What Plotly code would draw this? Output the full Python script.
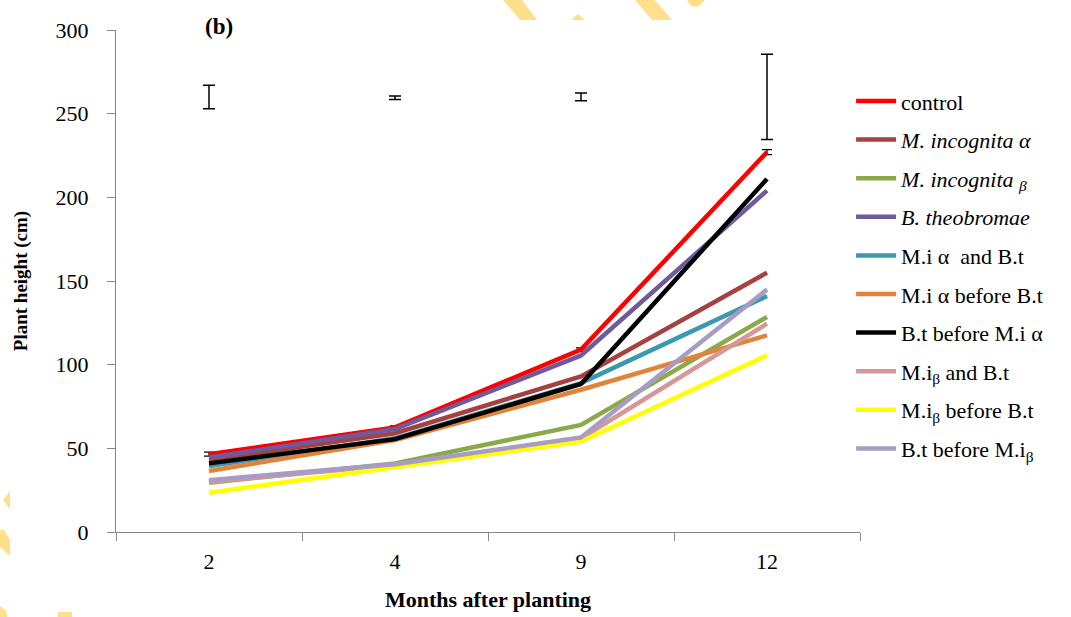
import plotly.graph_objects as go

months = ["2", "4", "9", "12"]

series_names = [
    "control",
    "<i>M. incognita α</i>",
    "<i>M. incognita</i> <sub><i>β</i></sub>",
    "<i>B. theobromae</i>",
    "M.i α  and B.t",
    "M.i α before B.t",
    "B.t before M.i α",
    "M.i<sub>β</sub> and B.t",
    "M.i<sub>β</sub> before B.t",
    "B.t before M.i<sub>β</sub>",
]
control = [46.5, 62.5, 109, 227]
mi_alpha = [43, 59, 93, 155]
mi_beta = [29.5, 41, 64, 128.5]
b_theo = [44.5, 61.5, 105.5, 204]
mia_and_bt = [39.5, 56, 89, 141]
mia_before_bt = [36.5, 55, 85, 117.5]
bt_before_mia = [41, 55.5, 88.5, 211]
mib_and_bt = [30, 40, 56, 124.5]
mib_before_bt = [23.5, 39, 54, 105.5]
bt_before_mib = [31, 40.5, 56.5, 145]
series_values = [control, mi_alpha, mi_beta, b_theo, mia_and_bt, mia_before_bt,
                 bt_before_mia, mib_and_bt, mib_before_bt, bt_before_mib]
series_colors = ["#FF0000", "#A5423F", "#8AAA4A", "#6E5A9C", "#3A98B0", "#E0843C",
                 "#000000", "#D69896", "#FFFF00", "#A89CC4"]
control_err = [1.2, 1.0, 1.0, 1.5]

# LSD-style bars shown at top of the chart
lsd_center = [260, 259.5, 260, 260]
lsd_half = [7, 1, 2.3, 25.5]

FONT = "Liberation Serif, Times New Roman, serif"
fig = go.Figure()

for i, (name, vals, col) in enumerate(zip(series_names, series_values, series_colors)):
    kw = {}
    if i == 0:
        kw["error_y"] = dict(type="data", array=control_err, color="black", thickness=1.2, width=5)
    fig.add_trace(go.Scatter(
        x=months, y=vals, name=name, mode="lines",
        line=dict(color=col, width=4.5),
        legendgroup=f"g{i}", **kw))

fig.add_trace(go.Scatter(
    x=months, y=lsd_center, mode="markers", showlegend=False,
    marker=dict(size=1, color="rgba(0,0,0,0)"),
    error_y=dict(type="data", array=lsd_half, color="black", thickness=1.5, width=6),
    hoverinfo="skip"))

W, H = 1071, 617
L, R, T, B = 116, 860, 30, 532


def px(x, y):
    return (x - L) / (R - L), (B - y) / (B - T)


def poly(points):
    pts = [px(x, y) for x, y in points]
    d = "M " + " L ".join(f"{a:.4f},{b:.4f}" for a, b in pts) + " Z"
    return dict(type="path", path=d, xref="paper", yref="paper",
                fillcolor="#FFE08A", line=dict(width=0), layer="below")


wm = [
    [(503, 0), (522, 0), (537, 20), (520, 20)],
    [(571, 20), (578, 14), (585, 20)],
    [(635, 0), (655, 0), (672, 20), (652, 20)],
    [(687, 0), (705, 0), (698, 7), (691, 6)],
    [(10, 491), (3, 500), (10, 509)],
    [(0, 530), (4, 530), (10, 540), (10, 556), (0, 547)],
    [(0, 606), (7, 612), (7, 617), (0, 617)],
    [(58, 612), (72, 612), (72, 617), (58, 617)],
]

bx, by = px(219, 26)

fig.update_layout(
    width=W, height=H,
    margin=dict(l=L, r=W - R, t=T, b=H - B, autoexpand=False),
    paper_bgcolor="white", plot_bgcolor="white",
    font=dict(family=FONT, color="black", size=20),
    shapes=[poly(p) for p in wm],
    showlegend=True,
    legend=dict(
        x=0.988, y=0.9, xanchor="left", yanchor="top",
        font=dict(family=FONT, size=22, color="black"),
        tracegroupgap=7, itemwidth=40, bgcolor="rgba(0,0,0,0)",
    ),
    annotations=[dict(
        text="<b>(b)</b>", x=bx, y=by, xanchor="center", yanchor="middle",
        xref="paper", yref="paper", showarrow=False,
        font=dict(family=FONT, size=23, color="black"))],
)

fig.update_xaxes(
    type="category", range=[-0.5, 3.5], automargin=False,
    showline=True, linecolor="#888888", linewidth=1,
    ticks="outside", tickson="boundaries", ticklen=8, tickcolor="#888888",
    showgrid=False, zeroline=False,
    tickfont=dict(family=FONT, size=22), ticklabelstandoff=10,
    title=dict(text="<b>Months after planting</b>", font=dict(family=FONT, size=22), standoff=18),
)
fig.update_yaxes(
    range=[0, 300], dtick=50, automargin=False,
    showline=True, linecolor="#888888", linewidth=1,
    ticks="outside", ticklen=8, tickcolor="#888888",
    showgrid=False, zeroline=False,
    tickfont=dict(family=FONT, size=22), ticklabelstandoff=14,
    title=dict(text="<b>Plant height (cm)</b>", font=dict(family=FONT, size=19), standoff=22),
)

fig.write_html("out.html")
